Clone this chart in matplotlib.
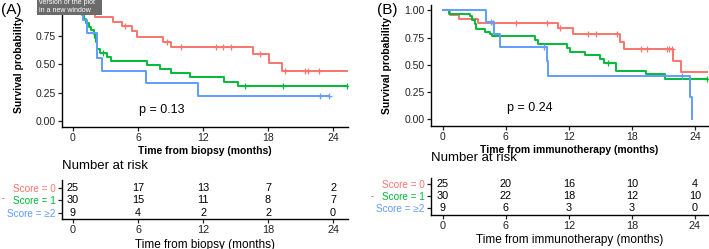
import numpy as np
import matplotlib
matplotlib.use("Agg")
import matplotlib.pyplot as plt
from matplotlib.patches import Rectangle

plt.rcParams["font.family"] = ["Liberation Sans", "DejaVu Sans"]

# ---- data -------------------------------------------------------------
groups = ["Score = 0", "Score = 1", "Score = \u22652"]
colors = ["#F8766D", "#00BA38", "#619CFF"]
risk_times = [0, 6, 12, 18, 24]

# panel A: time from biopsy
a0_t = [0, 0.8, 2.0, 3.7, 4.5, 5.4, 5.9, 8.3, 9.0, 16.6, 18.1, 19.3]
a0_s = [1.0, 0.96, 0.92, 0.875, 0.835, 0.79, 0.745, 0.70, 0.655, 0.59, 0.515, 0.44]
a0_cens = [4.8, 8.7, 10.0, 13.2, 13.8, 14.6, 17.3, 19.6, 21.4, 21.7, 22.7]
a0_end = 25.4
a1_t = [0, 0.5, 0.8, 1.0, 1.2, 1.5, 1.7, 1.9, 2.0, 2.1, 2.2, 2.5, 3.1, 3.5,
        6.8, 8.0, 9.0, 10.8, 13.9, 15.2]
a1_s = [1.0, 0.967, 0.933, 0.9, 0.867, 0.833, 0.80, 0.767, 0.733, 0.70, 0.633,
        0.60, 0.565, 0.53, 0.495, 0.456, 0.427, 0.386, 0.347, 0.31]
a1_cens = [2.8, 15.9, 19.4, 25.3]
a1_end = 25.3
a2_t = [0, 0.9, 1.3, 2.2, 2.65, 6.7, 11.5]
a2_s = [1.0, 0.889, 0.778, 0.556, 0.444, 0.333, 0.222]
a2_cens = [22.8, 23.6]
a2_end = 23.6
risk_a = [[25, 17, 13, 7, 2], [30, 15, 11, 8, 7], [9, 4, 2, 2, 0]]

# panel B: time from immunotherapy
b0_t = [0, 0.7, 1.55, 3.4, 11.0, 12.4, 16.9, 17.25, 21.9, 22.7]
b0_s = [1.0, 0.96, 0.92, 0.88, 0.835, 0.78, 0.71, 0.645, 0.537, 0.43]
b0_cens = [4.8, 7.0, 9.9, 11.2, 13.8, 14.6, 16.6, 18.9, 19.4, 21.3, 21.55, 21.8]
b0_end = 25.2
b1_t = [0, 0.6, 2.6, 2.8, 3.1, 3.2, 4.0, 4.5, 4.65, 8.8, 9.1, 11.8, 12.1, 13.5,
        15.0, 15.35, 16.5, 19.3, 21.15]
b1_s = [1.0, 0.967, 0.947, 0.91, 0.87, 0.825, 0.80, 0.78, 0.764, 0.727, 0.69,
        0.655, 0.62, 0.587, 0.553, 0.518, 0.445, 0.41, 0.37]
b1_cens = [15.7, 25.1]
b1_end = 25.1
b2_t = [0, 4.1, 4.9, 5.45, 9.9, 10.0, 23.5, 23.75]
b2_s = [1.0, 0.889, 0.778, 0.667, 0.533, 0.40, 0.20, 0.0]
b2_cens = [4.6, 9.6, 22.8]
b2_end = 23.75
risk_b = [[25, 20, 16, 10, 4], [30, 22, 18, 12, 10], [9, 6, 3, 3, 0]]

W, H = 709, 249
fig = plt.figure(figsize=(W / 100, H / 100), dpi=100)


def box(l, t, r, b):
    return [l / W, 1 - b / H, (r - l) / W, (b - t) / H]


def style(ax):
    for s in ["top", "right"]:
        ax.spines[s].set_visible(False)
    for s in ["left", "bottom"]:
        ax.spines[s].set_linewidth(1.0)
    ax.tick_params(length=3, width=0.9, labelsize=7.5, pad=1.5, colors="#222222")


def km(ax, t, s, cens, end, col):
    tt = list(t) + [end]
    ss = list(s) + [s[-1]]
    ax.step(tt, ss, where="post", color=col, lw=1.4)
    idx = np.searchsorted(t, cens, side="right") - 1
    ax.plot(cens, np.array(s)[idx], ls="none", marker="+", ms=5, mew=0.9, color=col)


def main_panel(rect, xlim, ylim, curves, xlabel, ylab_x, pval):
    ax = fig.add_axes(rect)
    for (t, s, c, e), col in zip(curves, colors):
        km(ax, t, s, c, e, col)
    ax.set_xlim(*xlim)
    ax.set_ylim(*ylim)
    ax.set_xticks(risk_times)
    ax.set_yticks([0, 0.25, 0.5, 0.75, 1.0])
    ax.set_yticklabels(["0.00", "0.25", "0.50", "0.75", "1.00"])
    style(ax)
    ax.set_xlabel(xlabel, fontsize=7.5, fontweight="bold")
    ax.set_ylabel("Survival probability", fontsize=7.5, fontweight="bold")
    ax.xaxis.set_label_coords(0.5, -0.155)
    ax.yaxis.set_label_coords(ylab_x, 0.5)
    ax.text(6.1, 0.1, pval, fontsize=9, va="center", ha="left")
    return ax


def risk_panel(rect, xlim, ylim, risk, xlabel):
    ax = fig.add_axes(rect)
    for row, vals in enumerate(risk):
        for x, v in zip(risk_times, vals):
            ax.text(x, 2 - row, str(v), ha="center", va="center", fontsize=7.8)
    ax.set_xlim(*xlim)
    ax.set_ylim(*ylim)
    ax.set_xticks(risk_times)
    ax.set_yticks([2, 1, 0])
    ax.set_yticklabels(groups)
    style(ax)
    ax.tick_params(axis="y", labelsize=7.2)
    ax.tick_params(axis="x", labelsize=7.8)
    for lab, col in zip(ax.get_yticklabels(), colors):
        lab.set_color(col)
    ax.set_xlabel(xlabel, fontsize=8.5)
    ax.xaxis.set_label_coords(0.5, -0.52)
    return ax


xa = (-1.015, 25.38)
xb = (-1.113, 25.24)

main_panel(box(62, 2, 348, 127), xa, (-0.053, 1.05),
           [(a0_t, a0_s, a0_cens, a0_end), (a1_t, a1_s, a1_cens, a1_end),
            (a2_t, a2_s, a2_cens, a2_end)],
           "Time from biopsy (months)", -0.133, "p = 0.13")
main_panel(box(431, 5, 708, 126), xb, (-0.064, 1.049),
           [(b0_t, b0_s, b0_cens, b0_end), (b1_t, b1_s, b1_cens, b1_end),
            (b2_t, b2_s, b2_cens, b2_end)],
           "Time from immunotherapy (months)", -0.142, "p = 0.24")

risk_panel(box(62, 180, 348, 219), xa, (-0.51, 2.65), risk_a,
           "Time from biopsy (months)")
risk_panel(box(431, 178, 708, 215), xb, (-0.55, 2.5), risk_b,
           "Time from immunotherapy (months)")

fig.text(62 / W, 1 - 166 / H, "Number at risk", fontsize=9.5, va="center")
fig.text(431 / W, 1 - 158 / H, "Number at risk", fontsize=9.5, va="center")
fig.text(2 / W, 1 - 199 / H, "-", fontsize=6, color="#444444", va="center")
fig.text(371 / W, 1 - 197 / H, "-", fontsize=6, color="#444444", va="center")

fig.text(0.5 / W, 1 - 10 / H, "(A)", fontsize=11, va="center")
fig.text(377 / W, 1 - 10 / H, "(B)", fontsize=11, va="center")

# tooltip overlay seen in the source image
fig.patches.append(Rectangle((37 / W, 1 - 15 / H), 65 / W, 15 / H,
                             transform=fig.transFigure, facecolor="#6b6b6b",
                             edgecolor="none", zorder=5))
fig.text(39 / W, 1 - 6.5 / H, "version of the plot\nin a new window",
         fontsize=5, color="white", va="center", linespacing=1.25, zorder=6)

fig.savefig("out.png", dpi=100)
